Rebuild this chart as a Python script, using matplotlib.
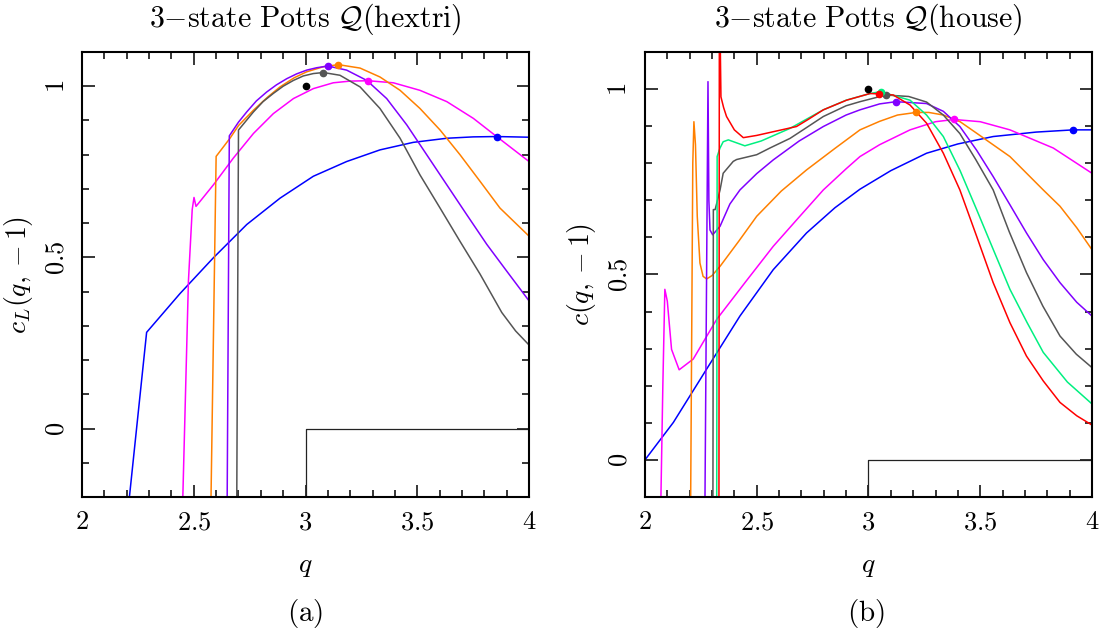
import numpy as np
import matplotlib
matplotlib.use("Agg")
import matplotlib.pyplot as plt
from matplotlib.ticker import MultipleLocator, FixedLocator, FixedFormatter

plt.rcParams['mathtext.fontset'] = 'cm'
plt.rcParams['lines.solid_joinstyle'] = 'round'

# --- panel (a): hextri, c_L(q,-1) ---
a_blue_q = [2.204, 2.289, 2.438, 2.588, 2.737, 2.886, 3.035, 3.184, 3.333, 3.482, 3.632, 3.75, 3.855, 3.93, 4.0]
a_blue_c = [-0.25, 0.281, 0.394, 0.499, 0.596, 0.673, 0.737, 0.78, 0.814, 0.836, 0.848, 0.852, 0.853, 0.852, 0.851]
a_magenta_q = [2.449, 2.476, 2.493, 2.501, 2.51, 2.588, 2.677, 2.767, 2.856, 2.946, 3.035, 3.124, 3.2, 3.281,
               3.393, 3.512, 3.632, 3.751, 3.855, 4.0]
a_magenta_c = [-0.25, 0.43, 0.64, 0.675, 0.649, 0.712, 0.79, 0.862, 0.92, 0.964, 0.993, 1.01, 1.015, 1.016,
               1.01, 0.988, 0.955, 0.906, 0.853, 0.780]
a_orange_q = [2.576, 2.600, 2.662, 2.70, 2.767, 2.83, 2.886, 2.95, 3.005, 3.08, 3.147, 3.244, 3.333, 3.423,
              3.512, 3.602, 3.691, 3.781, 3.870, 4.0]
a_orange_c = [-0.25, 0.795, 0.848, 0.885, 0.93, 0.968, 0.998, 1.025, 1.042, 1.057, 1.063, 1.053, 1.027, 0.988,
              0.935, 0.872, 0.80, 0.722, 0.644, 0.562]
a_purple_q = [2.649, 2.659, 2.70, 2.737, 2.78, 2.826, 2.87, 2.916, 2.96, 3.005, 3.05, 3.10, 3.184, 3.274,
              3.363, 3.453, 3.542, 3.632, 3.721, 3.811, 3.900, 4.0]
a_purple_c = [-0.25, 0.855, 0.895, 0.925, 0.957, 0.983, 1.004, 1.022, 1.036, 1.047, 1.054, 1.059, 1.047, 1.017,
              0.964, 0.887, 0.80, 0.712, 0.625, 0.538, 0.46, 0.373]
a_gray_q = [2.692, 2.700, 2.767, 2.81, 2.856, 2.90, 2.946, 2.99, 3.035, 3.080, 3.154, 3.244, 3.333, 3.423,
            3.512, 3.602, 3.691, 3.781, 3.878, 3.94, 4.0]
a_gray_c = [-0.25, 0.872, 0.925, 0.955, 0.979, 1.0, 1.017, 1.03, 1.037, 1.040, 1.032, 0.998, 0.935, 0.848,
            0.741, 0.644, 0.547, 0.451, 0.339, 0.285, 0.244]
a_dots_q = [3.855, 3.281, 3.147, 3.100, 3.080]
a_dots_c = [0.853, 1.016, 1.063, 1.059, 1.040]

# --- panel (b): house, c(q,-1) ---
b_blue_q = [2.0, 2.127, 2.276, 2.425, 2.574, 2.723, 2.85, 2.962, 3.1, 3.26, 3.4, 3.558, 3.75, 3.916, 4.0]
b_blue_c = [0.0, 0.101, 0.245, 0.388, 0.513, 0.612, 0.68, 0.730, 0.78, 0.827, 0.852, 0.872, 0.884, 0.890, 0.890]
b_magenta_q = [2.07, 2.08, 2.089, 2.10, 2.119, 2.153, 2.216, 2.321, 2.45, 2.574, 2.69, 2.798, 2.9, 2.962,
               3.05, 3.186, 3.3, 3.383, 3.5, 3.633, 3.827, 4.0]
b_magenta_c = [-0.15, 0.2, 0.46, 0.428, 0.298, 0.243, 0.272, 0.379, 0.48, 0.576, 0.655, 0.728, 0.785, 0.818,
               0.85, 0.890, 0.912, 0.918, 0.912, 0.890, 0.841, 0.773]
b_orange_q = [2.204, 2.214, 2.219, 2.226, 2.234, 2.246, 2.26, 2.276, 2.30, 2.336, 2.42, 2.50, 2.61, 2.723,
              2.85, 2.962, 3.05, 3.13, 3.213, 3.27, 3.335, 3.41, 3.484, 3.633, 3.782, 3.857, 3.932, 4.0]
b_orange_c = [-0.15, 0.80, 0.912, 0.85, 0.657, 0.531, 0.495, 0.488, 0.497, 0.522, 0.59, 0.657, 0.725, 0.782,
              0.84, 0.890, 0.913, 0.930, 0.937, 0.937, 0.93, 0.912, 0.881, 0.818, 0.728, 0.684, 0.626, 0.567]
b_purple_q = [2.268, 2.282, 2.286, 2.291, 2.303, 2.336, 2.38, 2.425, 2.50, 2.574, 2.69, 2.798, 2.9, 2.962,
              3.05, 3.123, 3.26, 3.335, 3.409, 3.484, 3.558, 3.633, 3.707, 3.782, 3.857, 3.932, 4.0]
b_purple_c = [-0.15, 1.02, 0.70, 0.62, 0.607, 0.63, 0.69, 0.728, 0.772, 0.809, 0.86, 0.899, 0.93, 0.944,
              0.96, 0.966, 0.961, 0.94, 0.899, 0.835, 0.764, 0.688, 0.612, 0.54, 0.478, 0.425, 0.388]
b_gray_q = [2.304, 2.306, 2.314, 2.336, 2.35, 2.395, 2.41, 2.50, 2.559, 2.649, 2.72, 2.798, 2.9, 2.962, 3.078,
            3.18, 3.26, 3.335, 3.409, 3.48, 3.558, 3.63, 3.707, 3.78, 3.857, 3.93, 4.0]
b_gray_c = [-0.15, 0.675, 0.675, 0.728, 0.773, 0.805, 0.81, 0.823, 0.841, 0.867, 0.895, 0.926, 0.955, 0.966,
            0.984, 0.980, 0.965, 0.93, 0.88, 0.81, 0.728, 0.615, 0.505, 0.415, 0.334, 0.285, 0.249]
b_green_q = [2.321, 2.323, 2.335, 2.35, 2.373, 2.41, 2.447, 2.52, 2.649, 2.798, 2.9, 3.007, 3.054, 3.186,
             3.26, 3.335, 3.41, 3.484, 3.56, 3.633, 3.71, 3.782, 3.89, 4.0]
b_green_c = [-0.15, 0.818, 0.84, 0.858, 0.863, 0.855, 0.847, 0.86, 0.894, 0.944, 0.97, 0.988, 0.993, 0.970,
             0.93, 0.872, 0.78, 0.675, 0.565, 0.46, 0.37, 0.29, 0.21, 0.151]
b_red_q = [2.331, 2.333, 2.340, 2.352, 2.365, 2.40, 2.44, 2.50, 2.574, 2.678, 2.73, 2.798, 2.902, 3.007,
           3.047, 3.111, 3.186, 3.26, 3.335, 3.409, 3.484, 3.558, 3.633, 3.707, 3.782, 3.857, 3.932, 4.0]
b_red_c = [-0.15, 1.3, 0.979, 0.95, 0.926, 0.89, 0.869, 0.875, 0.885, 0.899, 0.918, 0.944, 0.97, 0.988,
           0.987, 0.984, 0.957, 0.908, 0.827, 0.728, 0.603, 0.478, 0.37, 0.28, 0.213, 0.155, 0.119, 0.094]
b_dots_q = [3.916, 3.383, 3.213, 3.123, 3.078, 3.054, 3.047]
b_dots_c = [0.890, 0.918, 0.937, 0.966, 0.984, 0.993, 0.987]

# exact value at q=3 and the step line
exact_q = [3.0]
exact_c = [1.0]
step_q = [3.0, 3.0, 4.0]
step_c_a = [-0.25, 0.0, 0.0]
step_c_b = [-0.15, 0.0, 0.0]

x_ticks = [2, 2.5, 3, 3.5, 4]
x_ticklabels = ['$2$', '$2.5$', '$3$', '$3.5$', '$4$']
y_ticks = [0, 0.5, 1]
y_ticklabels = ['$0$', '$0.5$', '$1$']

cols = {'blue': '#0000ff', 'magenta': '#ff00ff', 'orange': '#ff8000', 'purple': '#8000ff',
        'gray': '#555555', 'green': '#00f080', 'red': '#ff0000'}

fig = plt.figure(figsize=(11.04, 6.34), dpi=100)
ax1 = fig.add_axes([0.0743, 0.2161, 0.4049, 0.7019])
ax2 = fig.add_axes([0.5842, 0.2161, 0.4049, 0.7019])

lw = 1.1
a_curves = [(a_blue_q, a_blue_c, 'blue'), (a_magenta_q, a_magenta_c, 'magenta'),
            (a_orange_q, a_orange_c, 'orange'), (a_purple_q, a_purple_c, 'purple'),
            (a_gray_q, a_gray_c, 'gray')]
for q, c, name in a_curves:
    ax1.plot(q, c, color=cols[name], lw=lw)
ax1.plot(step_q, step_c_a, color='#222222', lw=0.9)
for q, c, name in zip(a_dots_q, a_dots_c, ['blue', 'magenta', 'orange', 'purple', 'gray']):
    ax1.plot(q, c, 'o', color=cols[name], ms=4.5)
ax1.plot(exact_q, exact_c, 'o', color='black', ms=4.5)

b_curves = [(b_blue_q, b_blue_c, 'blue'), (b_magenta_q, b_magenta_c, 'magenta'),
            (b_orange_q, b_orange_c, 'orange'), (b_purple_q, b_purple_c, 'purple'),
            (b_gray_q, b_gray_c, 'gray'), (b_green_q, b_green_c, 'green'),
            (b_red_q, b_red_c, 'red')]
for q, c, name in b_curves:
    ax2.plot(q, c, color=cols[name], lw=lw)
ax2.plot(step_q, step_c_b, color='#222222', lw=0.9)
for q, c, name in zip(b_dots_q, b_dots_c, ['blue', 'magenta', 'orange', 'purple', 'gray', 'green', 'red']):
    ax2.plot(q, c, 'o', color=cols[name], ms=4.5)
ax2.plot(exact_q, exact_c, 'o', color='black', ms=4.5)

ax1.set_ylim(-0.2, 1.1)
ax2.set_ylim(-0.1, 1.1)
for ax in (ax1, ax2):
    ax.set_xlim(2, 4)
    ax.xaxis.set_major_locator(FixedLocator(x_ticks))
    ax.xaxis.set_major_formatter(FixedFormatter(x_ticklabels))
    ax.yaxis.set_major_locator(FixedLocator(y_ticks))
    ax.yaxis.set_major_formatter(FixedFormatter(y_ticklabels))
    ax.xaxis.set_minor_locator(MultipleLocator(0.1))
    ax.yaxis.set_minor_locator(MultipleLocator(0.1))
    ax.tick_params(which='both', direction='in', top=True, right=True, width=1.1, labelsize=19)
    ax.tick_params(which='major', length=9, pad=9)
    ax.tick_params(which='minor', length=5)
    for lab in ax.get_yticklabels():
        lab.set_rotation(90)
        lab.set_va('center')
    for s in ax.spines.values():
        s.set_linewidth(1.5)
    ax.set_xlabel('$q$', fontsize=20, labelpad=11)

ax1.set_ylabel('$c_L(q,-1)$', fontsize=20, labelpad=6)
ax2.set_ylabel('$c(q,-1)$', fontsize=20, labelpad=6)
ax1.set_title(r'$\mathrm{3{-}state\ Potts}\ \mathcal{Q}(\mathrm{hextri})$', fontsize=21.5, pad=18)
ax2.set_title(r'$\mathrm{3{-}state\ Potts}\ \mathcal{Q}(\mathrm{house})$', fontsize=21.5, pad=18)

fig.text(305 / 1104, 1 - 613 / 634, r'$\mathrm{(a)}$', ha='center', va='center', fontsize=21)
fig.text(866 / 1104, 1 - 613 / 634, r'$\mathrm{(b)}$', ha='center', va='center', fontsize=21)

fig.savefig('out.png', dpi=100)
